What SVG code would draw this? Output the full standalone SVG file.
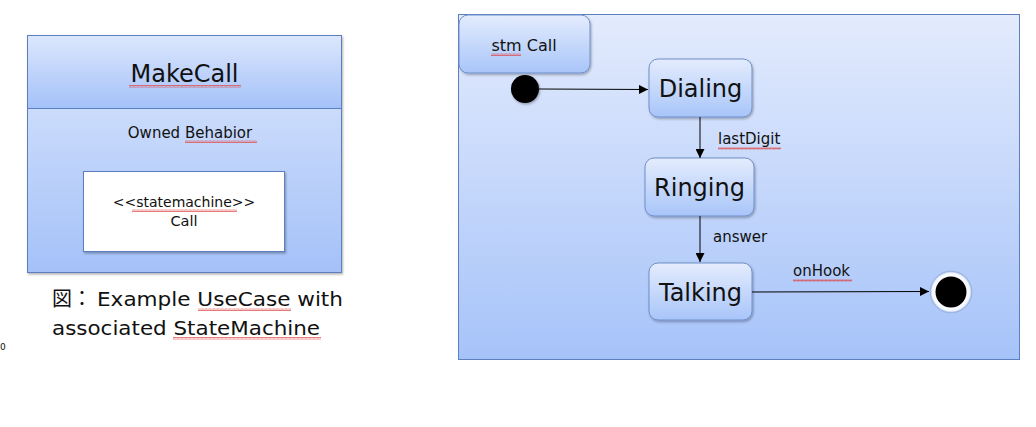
<svg xmlns="http://www.w3.org/2000/svg" width="1036" height="427" viewBox="0 0 1036 427">
<defs>
  <linearGradient id="gBox" x1="0" y1="0" x2="0" y2="1">
    <stop offset="0" stop-color="#dce7fd"/>
    <stop offset="1" stop-color="#a4c1f8"/>
  </linearGradient>
  <linearGradient id="gFrame" x1="0" y1="0" x2="0" y2="1">
    <stop offset="0" stop-color="#e3ebfd"/>
    <stop offset="1" stop-color="#a6c3f9"/>
  </linearGradient>
  <linearGradient id="gState" x1="0" y1="0" x2="0" y2="1">
    <stop offset="0" stop-color="#e4ecfd"/>
    <stop offset="1" stop-color="#a8c5f9"/>
  </linearGradient>
  <radialGradient id="gEnd" cx="0.5" cy="0.5" r="0.5">
    <stop offset="0.7" stop-color="#ffffff"/>
    <stop offset="0.9" stop-color="#f2f6ff"/>
    <stop offset="1" stop-color="#8aa6d8"/>
  </radialGradient>
  <marker id="arr" viewBox="0 0 10 10" refX="10" refY="5" markerWidth="9" markerHeight="9" markerUnits="userSpaceOnUse" orient="auto">
    <path d="M0,0 L10,5 L0,10 z" fill="#000"/>
  </marker>
  <pattern id="squig" width="4" height="3" patternUnits="userSpaceOnUse">
    <path d="M0,2.5 L1,0.5 L2,2.5 L3,0.5 L4,2.5" fill="none" stroke="#e04040" stroke-width="0.7"/>
  </pattern>
  <filter id="sh" x="-10%" y="-10%" width="130%" height="130%">
    <feDropShadow dx="1" dy="1.5" stdDeviation="1.2" flood-color="#000" flood-opacity="0.3"/>
  </filter>
</defs>
<style>
  text { font-family: "DejaVu Sans", "Noto Sans CJK JP", sans-serif; fill: #111; }
  .state { fill: url(#gState); stroke: #6f8fc9; stroke-width: 1; }
  .big { font-size: 24px; text-anchor: middle; }
  .lbl { font-size: 15px; }
  .conn { stroke: #000; stroke-width: 1; fill: none; marker-end: url(#arr); }
  .sq { fill: url(#squig); }
</style>

<g id="makecall">
  <rect x="27.5" y="35.5" width="314" height="237" fill="url(#gBox)" stroke="#5b7fbf" stroke-width="1" filter="url(#sh)"/>
  <rect x="27.5" y="35.5" width="314" height="73" fill="url(#gBox)" stroke="#5b7fbf" stroke-width="1"/>
  <text x="184.5" y="82" class="big">MakeCall</text>
  <rect x="129" y="85" width="112" height="3" class="sq"/>
  <text x="190" y="138" text-anchor="middle" style="font-size:15px">Owned Behabior</text>
  <rect x="185" y="140" width="72" height="3" class="sq"/>
</g>

<g id="statemachine-call">
  <rect x="83.5" y="171.5" width="201" height="80" fill="#fff" stroke="#5b7fbf" stroke-width="1" filter="url(#sh)"/>
  <text x="184" y="207" text-anchor="middle" style="font-size:14px">&lt;&lt;statemachine&gt;&gt;</text>
  <rect x="132" y="209" width="105" height="3" class="sq"/>
  <text x="184" y="226" text-anchor="middle" style="font-size:14.5px">Call</text>
</g>

<g id="caption">
  <text x="52" y="306" style="font-size:20px">図：<tspan x="97" textLength="246" lengthAdjust="spacingAndGlyphs">Example UseCase with</tspan></text>
  <rect x="198" y="308" width="93" height="3" class="sq"/>
  <text x="52" y="335" style="font-size:20px" textLength="268" lengthAdjust="spacingAndGlyphs">associated StateMachine</text>
  <rect x="173" y="337" width="148" height="3" class="sq"/>
  <text x="0" y="350" style="font-size:9px">0</text>
</g>

<g id="frame">
  <rect x="458.5" y="14.5" width="561" height="345" fill="url(#gFrame)" stroke="#5b7fbf" stroke-width="1"/>
</g>

<g id="stm-call">
  <rect x="459" y="15" width="131" height="58" rx="9" class="state" filter="url(#sh)"/>
  <text x="524" y="51" text-anchor="middle" style="font-size:16px">stm Call</text>
  <rect x="491" y="53" width="30" height="3" class="sq"/>
</g>

<g id="initial">
  <circle cx="525" cy="89" r="14" fill="#000" filter="url(#sh)"/>
</g>

<g id="dialing">
  <rect x="649" y="59" width="103" height="58" rx="9" class="state" filter="url(#sh)"/>
  <text x="700.5" y="97" class="big">Dialing</text>
</g>

<g id="ringing">
  <rect x="645" y="158" width="109" height="58" rx="9" class="state" filter="url(#sh)"/>
  <text x="699.5" y="196" class="big">Ringing</text>
</g>

<g id="talking">
  <rect x="649" y="263" width="103" height="57" rx="9" class="state" filter="url(#sh)"/>
  <text x="700.5" y="301" class="big">Talking</text>
</g>

<g id="final">
  <circle cx="951" cy="292" r="21" fill="url(#gEnd)" stroke="#9fb6e0" stroke-width="0.8"/>
  <circle cx="951" cy="292" r="15.5" fill="#000"/>
</g>

<g id="connectors">
  <line x1="539" y1="89" x2="648" y2="89.5" class="conn"/>
  <line x1="700" y1="117" x2="700" y2="158" class="conn"/>
  <line x1="700" y1="216" x2="700" y2="262" class="conn"/>
  <line x1="752" y1="292" x2="929" y2="291.5" class="conn"/>
  <text x="718" y="144" class="lbl">lastDigit</text>
  <rect x="718" y="147" width="63" height="3" class="sq"/>
  <text x="713" y="242" class="lbl">answer</text>
  <text x="793" y="276" class="lbl">onHook</text>
  <rect x="793" y="279" width="59" height="3" class="sq"/>
</g>
</svg>
